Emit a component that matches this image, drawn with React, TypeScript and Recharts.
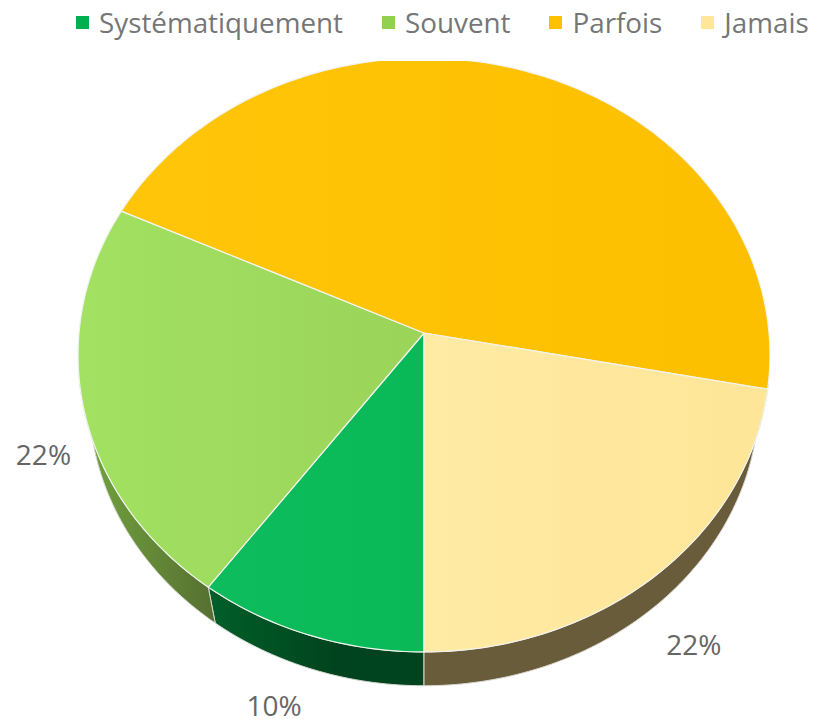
import { Legend, Pie, PieChart } from 'recharts';

const CATEGORIES = ['Systématiquement', 'Souvent', 'Parfois', 'Jamais'];
const VALUES = [10, 22, 46, 22];

const LEGEND_COLORS = ['#00B050', '#92D050', '#FFC000', '#FFE699'];
const LABEL_OFFSETS = [[-39, 36], [-51, 5], [0, 0], [44, 33]];

const data = CATEGORIES.map((name, i) => ({ name, value: VALUES[i], fill: LEGEND_COLORS[i] }));

// tilted disc: simple perspective, far edge gets smaller
const SQUASH = 0.856;
const K = 0.0741;
const LOWER_SCALE = 0.968;
const LOWER_SHIFT = 44;
const LEGEND_HEIGHT = 44;

const rim = (cx: number, cy: number, r: number, deg: number) => {
  const a = (deg * Math.PI) / 180;
  const d = 1 + K * Math.sin(a);
  return [cx + (r * Math.cos(a)) / d, cy - (r * SQUASH * Math.sin(a)) / d];
};

const arc = (cx: number, cy: number, r: number, from: number, to: number) => {
  const steps = Math.max(2, Math.ceil(Math.abs(to - from)));
  const pts: number[][] = [];
  for (let i = 0; i <= steps; i++) pts.push(rim(cx, cy, r, from + ((to - from) * i) / steps));
  return pts;
};

const toPath = (pts: number[][]) =>
  'M' + pts.map((p) => `${p[0].toFixed(2)},${p[1].toFixed(2)}`).join('L') + 'Z';

// eslint-disable-next-line @typescript-eslint/no-explicit-any
const TopFace = (props: any) => {
  const { cx, cy, outerRadius, startAngle, endAngle, index } = props;
  const pts = [[cx, cy], ...arc(cx, cy, outerRadius, startAngle, endAngle)];
  return (
    <path d={toPath(pts)} fill={`url(#top${index})`} stroke="#f1f3ee" strokeWidth={1.2} clipPath="url(#cutTop)" />
  );
};

// eslint-disable-next-line @typescript-eslint/no-explicit-any
const SideWall = (props: any) => {
  const { cx, cy, outerRadius, startAngle, endAngle, index } = props;
  const upper = arc(cx, cy, outerRadius, startAngle, endAngle);
  const lower = arc(cx, cy + LOWER_SHIFT, outerRadius * LOWER_SCALE, endAngle, startAngle);
  return (
    <path d={toPath([...upper, ...lower])} fill={`url(#side${index})`} stroke="#d8d8d2" strokeWidth={1} clipPath="url(#frontOnly)" />
  );
};

// eslint-disable-next-line @typescript-eslint/no-explicit-any
const SliceLabel = (props: any) => {
  const { cx, cy, outerRadius, midAngle, index, percent } = props;
  // the big slice has no visible label in the picture
  if (index === 2) return null;
  const [x, y] = rim(cx, cy + LOWER_SHIFT, outerRadius * LOWER_SCALE, midAngle);
  return (
    <text
      x={x + LABEL_OFFSETS[index][0]}
      y={y + LABEL_OFFSETS[index][1]}
      textAnchor="middle"
      dominantBaseline="central"
      fill="#666666"
      fontSize={28}
      fontFamily="'Open Sans', sans-serif"
    >
      {`${Math.round(percent * 100)}%`}
    </text>
  );
};

// eslint-disable-next-line @typescript-eslint/no-explicit-any
const TopLegend = ({ payload }: any) => (
  <div style={{ display: 'flex', paddingLeft: 76, height: LEGEND_HEIGHT, fontFamily: "'Open Sans', sans-serif", fontSize: 27.8, color: '#767676', lineHeight: `${LEGEND_HEIGHT}px` }}>
    {CATEGORIES.map((name) => {
      // both pies feed the legend, keep one entry per category
      const item = payload.find((p: { value: string }) => p.value === name);
      return (
        <div key={name} style={{ display: 'flex', alignItems: 'center', marginRight: 39, whiteSpace: 'nowrap' }}>
          <span style={{ width: 13, height: 13, background: item?.color, marginRight: 10 }} />
          {name}
        </div>
      );
    })}
  </div>
);

export default function App() {
  return (
    <div style={{ position: 'absolute', left: 0, top: 0 }}>
      <PieChart width={818} height={725} margin={{ top: 0, right: 0, bottom: 0, left: 0 }}>
        <defs>
          <clipPath id="cutTop">
            <rect x={0} y={61} width={818} height={664} />
          </clipPath>
          <clipPath id="frontOnly">
            <rect x={0} y={380} width={818} height={345} />
          </clipPath>
          <linearGradient id="top0" x1="0" y1="0" x2="1" y2="0">
            <stop offset="0%" stopColor="#0DBC5C" />
            <stop offset="100%" stopColor="#09B957" />
          </linearGradient>
          <linearGradient id="top1" x1="0" y1="0" x2="1" y2="0">
            <stop offset="0%" stopColor="#A2E162" />
            <stop offset="100%" stopColor="#9AD459" />
          </linearGradient>
          <linearGradient id="top2" x1="0" y1="0" x2="1" y2="0">
            <stop offset="0%" stopColor="#FFC508" />
            <stop offset="100%" stopColor="#FDC000" />
          </linearGradient>
          <linearGradient id="top3" x1="0" y1="0" x2="1" y2="0">
            <stop offset="0%" stopColor="#FFEBA4" />
            <stop offset="100%" stopColor="#FEE597" />
          </linearGradient>
          <linearGradient id="side0" x1="0" y1="0" x2="1" y2="0">
            <stop offset="0%" stopColor="#005F29" />
            <stop offset="60%" stopColor="#00431E" />
            <stop offset="100%" stopColor="#00441F" />
          </linearGradient>
          <linearGradient id="side1" x1="0" y1="0" x2="1" y2="0">
            <stop offset="0%" stopColor="#73A63F" />
            <stop offset="100%" stopColor="#566F31" />
          </linearGradient>
          <linearGradient id="side2" x1="0" y1="0" x2="1" y2="0">
            <stop offset="0%" stopColor="#7A5C00" />
            <stop offset="100%" stopColor="#7A5C00" />
          </linearGradient>
          <linearGradient id="side3" x1="0" y1="0" x2="1" y2="0">
            <stop offset="0%" stopColor="#695C3B" />
            <stop offset="100%" stopColor="#695C3B" />
          </linearGradient>
        </defs>
        <Legend verticalAlign="top" align="left" content={<TopLegend />} wrapperStyle={{ top: 0, left: 0, width: 818 }} />
        <Pie
          data={data}
          dataKey="value"
          nameKey="name"
          cx={424}
          cy={333 - LEGEND_HEIGHT}
          outerRadius={345}
          startAngle={270}
          endAngle={-90}
          legendType="none"
          shape={<SideWall />}
          isAnimationActive={false}
        />
        <Pie
          data={data}
          dataKey="value"
          nameKey="name"
          cx={424}
          cy={333 - LEGEND_HEIGHT}
          outerRadius={345}
          startAngle={270}
          endAngle={-90}
          shape={<TopFace />}
          label={<SliceLabel />}
          labelLine={false}
          isAnimationActive={false}
        />
      </PieChart>
    </div>
  );
}
